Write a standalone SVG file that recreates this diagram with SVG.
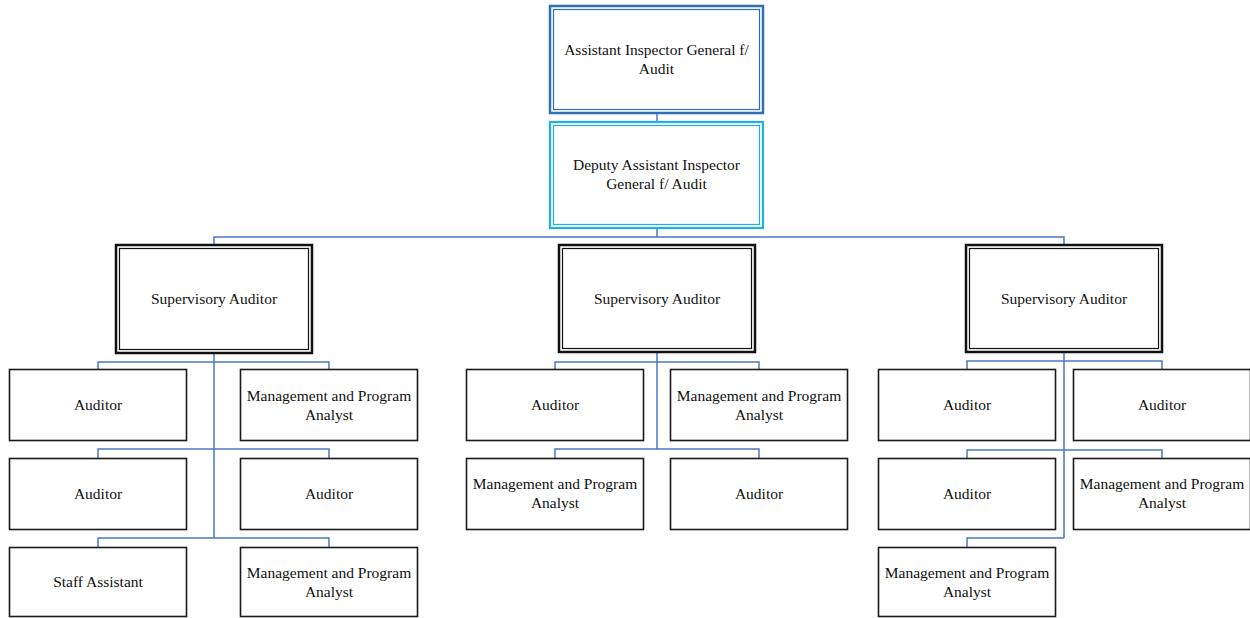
<svg xmlns="http://www.w3.org/2000/svg" width="1250" height="618" viewBox="0 0 1250 618">
  <style>
    text { font-family: "Liberation Serif", "Times New Roman", serif; font-size: 15.5px; fill: #111; text-anchor: middle; }
    .outer-top { fill: #fff; stroke: #2e6fb7; stroke-width: 2.5; }
    .inner-top { fill: none; stroke: #2e6fb7; stroke-width: 1.2; }
    .outer-dep { fill: #fff; stroke: #1fb0ea; stroke-width: 2.2; }
    .inner-dep { fill: none; stroke: #1fb0ea; stroke-width: 1.2; }
    .outer-sup { fill: #fff; stroke: #111; stroke-width: 2.5; }
    .inner-sup { fill: none; stroke: #111; stroke-width: 1.2; }
    .box { fill: #fff; stroke: #1a1a1a; stroke-width: 1.6; }
    .link { fill: none; stroke: #4a78c2; stroke-width: 1.5; }
  </style>

  <!-- connectors -->
  <g id="connectors">
    <path class="link" d="M657 113 V122"/>
    <path class="link" d="M657 228 V237 M214 245 V237 H1064 V245"/>
    <!-- left branch -->
    <path class="link" d="M214 353 V538 M98 369 V362 H329 V369 M98 458 V449 H329 V458 M98 547 V538 H329 V547"/>
    <!-- middle branch -->
    <path class="link" d="M657 352 V449 M555 369 V362 H759 V369 M555 458 V449 H759 V458"/>
    <!-- right branch -->
    <path class="link" d="M1064 352 V538 M967 369 V361 H1162 V369 M967 458 V450 H1162 V458 M967 547 V538 H1064"/>
  </g>

  <g id="aig">
    <rect class="outer-top" x="550" y="6" width="213" height="107"/>
    <rect class="inner-top" x="553.5" y="9.5" width="206" height="100"/>
    <text x="656.5" y="55">Assistant Inspector General f/</text>
    <text x="656.5" y="74">Audit</text>
  </g>

  <g id="daig">
    <rect class="outer-dep" x="550" y="122" width="213" height="106"/>
    <rect class="inner-dep" x="553.5" y="125.5" width="206" height="99"/>
    <text x="656.5" y="170">Deputy Assistant Inspector</text>
    <text x="656.5" y="189">General f/ Audit</text>
  </g>

  <g id="sup-left">
    <rect class="outer-sup" x="116" y="245" width="196" height="108"/>
    <rect class="inner-sup" x="119.5" y="248.5" width="189" height="101"/>
    <text x="214" y="304">Supervisory Auditor</text>
  </g>
  <g id="sup-mid">
    <rect class="outer-sup" x="559" y="245" width="196" height="107"/>
    <rect class="inner-sup" x="562.5" y="248.5" width="189" height="100"/>
    <text x="657" y="304">Supervisory Auditor</text>
  </g>
  <g id="sup-right">
    <rect class="outer-sup" x="966" y="245" width="196" height="107"/>
    <rect class="inner-sup" x="969.5" y="248.5" width="189" height="100"/>
    <text x="1064" y="304">Supervisory Auditor</text>
  </g>

  <!-- left branch staff -->
  <g id="l-auditor-1">
    <rect class="box" x="9.5" y="369.5" width="177" height="71"/>
    <text x="98" y="410">Auditor</text>
  </g>
  <g id="l-mpa-1">
    <rect class="box" x="240.5" y="369.5" width="177" height="71"/>
    <text x="329" y="401">Management and Program</text>
    <text x="329" y="420">Analyst</text>
  </g>
  <g id="l-auditor-2">
    <rect class="box" x="9.5" y="458.5" width="177" height="71"/>
    <text x="98" y="499">Auditor</text>
  </g>
  <g id="l-auditor-3">
    <rect class="box" x="240.5" y="458.5" width="177" height="71"/>
    <text x="329" y="499">Auditor</text>
  </g>
  <g id="l-staff-assistant">
    <rect class="box" x="9.5" y="547.5" width="177" height="69"/>
    <text x="98" y="587">Staff Assistant</text>
  </g>
  <g id="l-mpa-2">
    <rect class="box" x="240.5" y="547.5" width="177" height="69"/>
    <text x="329" y="578">Management and Program</text>
    <text x="329" y="597">Analyst</text>
  </g>

  <!-- middle branch staff -->
  <g id="m-auditor-1">
    <rect class="box" x="466.5" y="369.5" width="177" height="71"/>
    <text x="555" y="410">Auditor</text>
  </g>
  <g id="m-mpa-1">
    <rect class="box" x="670.5" y="369.5" width="177" height="71"/>
    <text x="759" y="401">Management and Program</text>
    <text x="759" y="420">Analyst</text>
  </g>
  <g id="m-mpa-2">
    <rect class="box" x="466.5" y="458.5" width="177" height="71"/>
    <text x="555" y="489">Management and Program</text>
    <text x="555" y="508">Analyst</text>
  </g>
  <g id="m-auditor-2">
    <rect class="box" x="670.5" y="458.5" width="177" height="71"/>
    <text x="759" y="499">Auditor</text>
  </g>

  <!-- right branch staff -->
  <g id="r-auditor-1">
    <rect class="box" x="878.5" y="369.5" width="177" height="71"/>
    <text x="967" y="410">Auditor</text>
  </g>
  <g id="r-auditor-2">
    <rect class="box" x="1073.5" y="369.5" width="177" height="71"/>
    <text x="1162" y="410">Auditor</text>
  </g>
  <g id="r-auditor-3">
    <rect class="box" x="878.5" y="458.5" width="177" height="71"/>
    <text x="967" y="499">Auditor</text>
  </g>
  <g id="r-mpa-1">
    <rect class="box" x="1073.5" y="458.5" width="177" height="71"/>
    <text x="1162" y="489">Management and Program</text>
    <text x="1162" y="508">Analyst</text>
  </g>
  <g id="r-mpa-2">
    <rect class="box" x="878.5" y="547.5" width="177" height="69"/>
    <text x="967" y="578">Management and Program</text>
    <text x="967" y="597">Analyst</text>
  </g>
</svg>
